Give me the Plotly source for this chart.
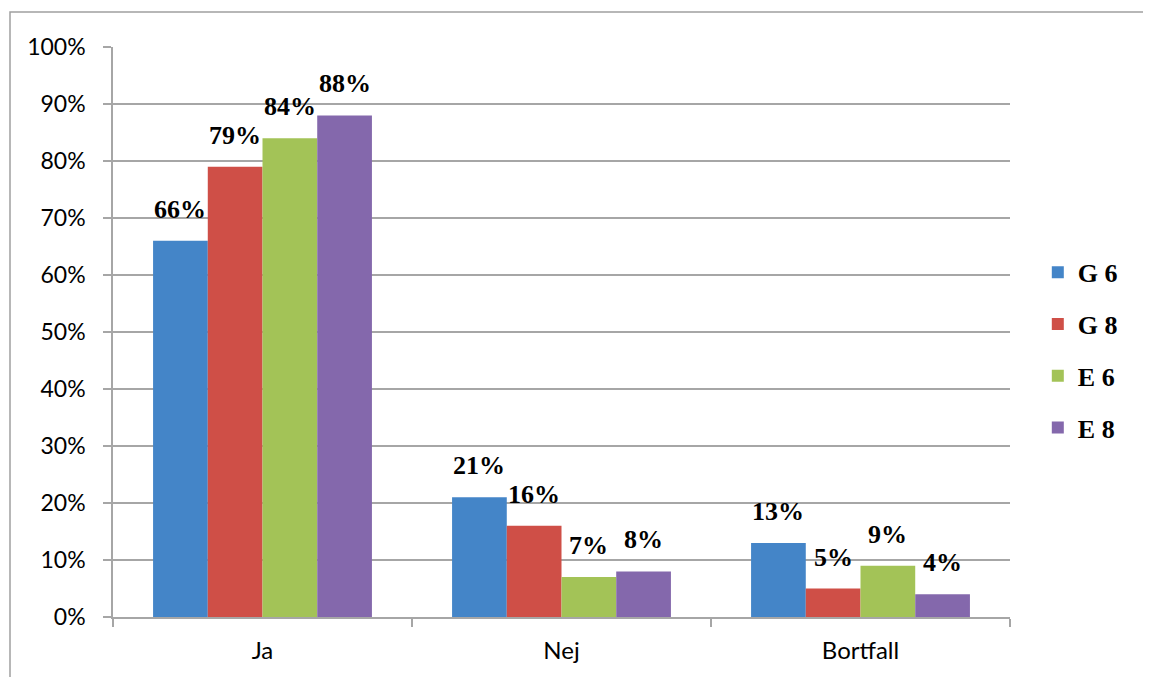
import plotly.graph_objects as go

categories = ["Ja", "Nej", "Bortfall"]
series_names = ["G 6", "G 8", "E 6", "E 8"]
g6 = [0.66, 0.21, 0.13]
g8 = [0.79, 0.16, 0.05]
e6 = [0.84, 0.07, 0.09]
e8 = [0.88, 0.08, 0.04]
series_values = [g6, g8, e6, e8]
colors = ["#4485c8", "#cf4f47", "#a3c357", "#8468ac"]
y_ticks = [0, 0.1, 0.2, 0.3, 0.4, 0.5, 0.6, 0.7, 0.8, 0.9, 1.0]
y_tick_labels = ["0%", "10%", "20%", "30%", "40%", "50%", "60%", "70%", "80%", "90%", "100%"]

# page body has an 8px margin, so the figure is drawn 8px smaller
W, H = 1143, 669
ML, MR, MT, MB = 105, 141, 39, 60
plot_w = W - ML - MR
plot_h = H - MT - MB
bargap = 0.268
cat_px = plot_w / len(categories)
bar_px = cat_px * (1 - bargap) / len(series_names)

fig = go.Figure()
for i, (name, vals, col) in enumerate(zip(series_names, series_values, colors)):
    fig.add_trace(go.Bar(
        name=name, x=categories, y=vals,
        marker=dict(color=col, line=dict(width=0)),
        legendgroup=name,
    ))
    for c, v in zip(categories, vals):
        fig.add_annotation(
            x=c, y=v, xref="x", yref="y",
            text=f"{round(v*100)}%", showarrow=False,
            xshift=(i - (len(series_names) - 1) / 2) * bar_px,
            yshift=15, yanchor="bottom",
            font=dict(family="Liberation Serif", size=26, color="#000000", weight="bold"),
        )

fig.update_layout(
    width=W, height=H,
    margin=dict(l=ML, r=MR, t=MT, b=MB),
    paper_bgcolor="white", plot_bgcolor="white",
    barmode="group", bargap=bargap, bargroupgap=0,
    legend=dict(
        x=1.031, y=0.468, xanchor="left", yanchor="middle",
        font=dict(family="Liberation Serif", size=26, color="#000000", weight="bold"),
        tracegroupgap=15, itemwidth=30,
    ),
    xaxis=dict(
        automargin=False,
        showgrid=False, showline=True, linecolor="#a6a6a6", linewidth=1.5,
        ticks="outside", ticklen=8, tickcolor="#a6a6a6", tickwidth=1.5,
        tickson="boundaries",
        tickfont=dict(family="Lato", size=24, color="#000000"),
        ticklabelstandoff=11,
    ),
    yaxis=dict(
        automargin=False,
        range=[0, 1.0], tickvals=y_ticks, ticktext=y_tick_labels,
        showgrid=True, gridcolor="#a6a6a6", gridwidth=1.5,
        showline=True, linecolor="#a6a6a6", linewidth=1.5,
        ticks="outside", ticklen=8, tickcolor="#a6a6a6", tickwidth=1.5,
        tickfont=dict(family="Lato", size=23, color="#000000"),
        ticklabelstandoff=13, zeroline=False,
    ),
    shapes=[dict(
        type="rect", xref="paper", yref="paper",
        x0=(2 - ML) / plot_w, x1=(W + 5 - ML) / plot_w,
        y0=-(MB + 5) / plot_h, y1=1 + (MT - 4) / plot_h,
        line=dict(color="#a0a0a0", width=1.5), layer="below",
    )],
)

fig.write_html("out.html")
